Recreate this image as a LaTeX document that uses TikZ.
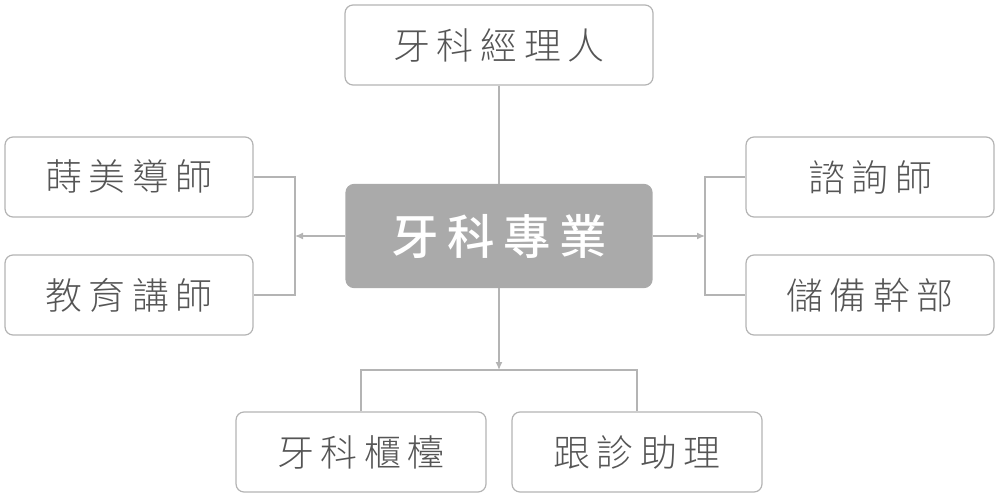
\documentclass[tikz,border=0pt]{standalone}
\usepackage{fontspec}
\newfontfamily\cjk[LetterSpace=18]{Noto Sans CJK TC Light}
\newfontfamily\cjkb[LetterSpace=18]{Noto Sans CJK TC Medium}
\usetikzlibrary{arrows.meta,positioning}
\definecolor{edge}{HTML}{B4B4B4}
\definecolor{txt}{HTML}{555555}
\definecolor{hub}{HTML}{AAAAAA}
\begin{document}
\begin{tikzpicture}[x=0.02cm, y=-0.02cm,
  b/.style={draw=edge, rounded corners=1.6mm, line width=0.7pt, minimum width=4.96cm, minimum height=1.6cm, align=center, text=txt, font=\cjk\fontsize{21}{24}\selectfont},
  h/.style={b, fill=hub, draw=hub, text=white, minimum width=6.12cm, minimum height=2.06cm, font=\cjkb\fontsize{27}{30}\selectfont},
  l/.style={draw=edge, line width=0.7pt},
  a/.style={l, -{Latex[length=1.6mm,width=1.4mm]}}
]
\useasboundingbox (0,0) rectangle (1000,500);
\node[h] (P) at (499,236) {牙科專業};
\node[b, minimum width=6.16cm] (M) at (499,45) {牙科經理人};
\node[b] (L1) at (129,177) {蒔美導師};
\node[b] (L2) at (129,295) {教育講師};
\node[b] (R1) at (870,177) {諮詢師};
\node[b] (R2) at (870,295) {儲備幹部};
\node[b, minimum width=5cm] (B1) at (361,452) {牙科櫃檯};
\node[b, minimum width=5cm] (B2) at (637,452) {跟診助理};
\coordinate (lj) at (295,236);
\coordinate (rj) at (705,236);
\coordinate (bj) at (499,370);

\draw[l] (M) -- (P);
\draw[a] (P.west) -- (lj);
\draw[l] (L1.east) -| (lj) |- (L2.east);
\draw[a] (P.east) -- (rj);
\draw[l] (R1.west) -| (rj) |- (R2.west);
\draw[a] (P.south) -- (bj);
\draw[l] (B1.north) |- (bj) -| (B2.north);
\end{tikzpicture}
\end{document}
